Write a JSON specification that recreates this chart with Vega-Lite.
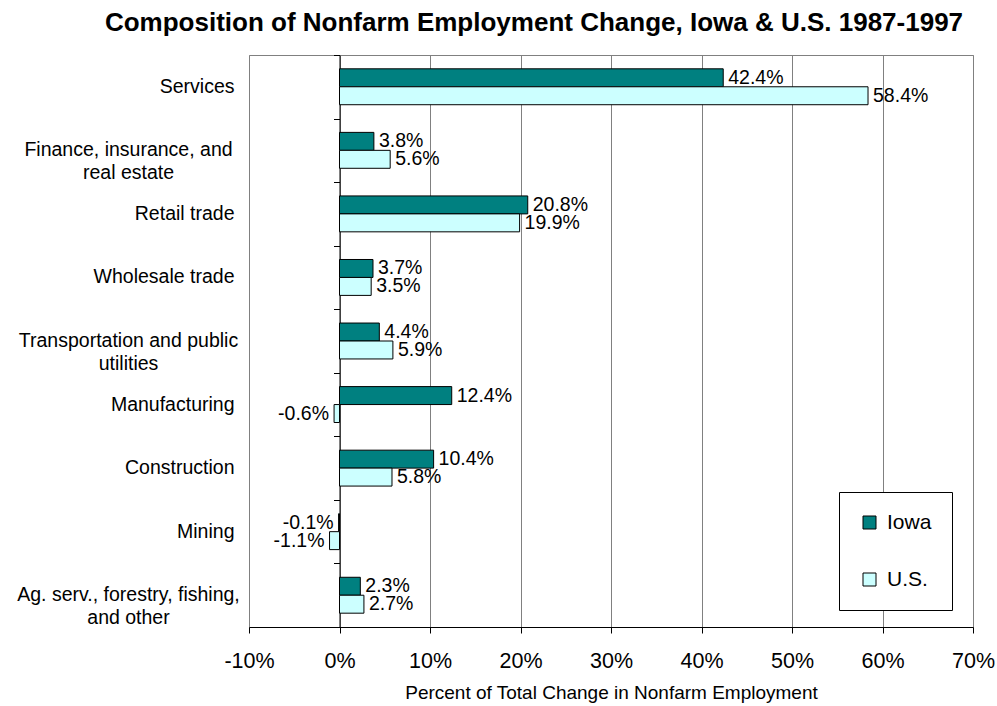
{
  "$schema": "https://vega.github.io/schema/vega-lite/v6.json",
  "width": 724,
  "height": 572,
  "autosize": {"type": "none"},
  "padding": {"left": 249, "top": 55, "right": 24, "bottom": 79},
  "background": "white",
  "title": {
    "text": "Composition of Nonfarm Employment Change, Iowa & U.S. 1987-1997",
    "fontSize": 26,
    "fontWeight": "bold",
    "font": "Liberation Sans",
    "anchor": "middle",
    "dx": -77,
    "offset": -2,
    "baseline": "alphabetic",
    "color": "black"
  },
  "data": {
    "values": [
      {"category": "Services", "series": "Iowa", "pct": 0.424},
      {"category": "Services", "series": "U.S.", "pct": 0.584},
      {"category": "Finance, insurance, and\nreal estate", "series": "Iowa", "pct": 0.038},
      {"category": "Finance, insurance, and\nreal estate", "series": "U.S.", "pct": 0.056},
      {"category": "Retail trade", "series": "Iowa", "pct": 0.208},
      {"category": "Retail trade", "series": "U.S.", "pct": 0.199},
      {"category": "Wholesale trade", "series": "Iowa", "pct": 0.037},
      {"category": "Wholesale trade", "series": "U.S.", "pct": 0.035},
      {"category": "Transportation and public\nutilities", "series": "Iowa", "pct": 0.044},
      {"category": "Transportation and public\nutilities", "series": "U.S.", "pct": 0.059},
      {"category": "Manufacturing", "series": "Iowa", "pct": 0.124},
      {"category": "Manufacturing", "series": "U.S.", "pct": -0.006},
      {"category": "Construction", "series": "Iowa", "pct": 0.104},
      {"category": "Construction", "series": "U.S.", "pct": 0.058},
      {"category": "Mining", "series": "Iowa", "pct": -0.001},
      {"category": "Mining", "series": "U.S.", "pct": -0.011},
      {"category": "Ag. serv., forestry, fishing,\nand other", "series": "Iowa", "pct": 0.023},
      {"category": "Ag. serv., forestry, fishing,\nand other", "series": "U.S.", "pct": 0.027}
    ]
  },
  "encoding": {
    "x": {
      "field": "pct",
      "type": "quantitative",
      "scale": {"domain": [-0.1, 0.7], "nice": false, "zero": false},
      "axis": {
        "format": ".0%",
        "values": [-0.1, 0, 0.1, 0.2, 0.3, 0.4, 0.5, 0.6, 0.7],
        "title": "Percent of Total Change in Nonfarm Employment",
        "titleFontSize": 19,
        "titleFontWeight": "normal",
        "titleColor": "black",
        "titlePadding": 12,
        "labelFontSize": 21.5,
        "labelColor": "black",
        "labelPadding": 17,
        "labelFlush": false,
        "labelOverlap": false,
        "tickSize": 6,
        "tickColor": "black",
        "domainColor": "black",
        "grid": true,
        "gridColor": "#808080",
        "gridOpacity": 1
      }
    },
    "yOffset": {
      "field": "series",
      "sort": ["Iowa", "U.S."],
      "scale": {"paddingInner": 0, "paddingOuter": 0.77}
    }
  },
  "layer": [
    {
      "mark": {"type": "bar", "stroke": "black", "strokeWidth": 1},
      "encoding": {
        "y": {
          "field": "category",
          "type": "nominal",
          "sort": null,
          "scale": {"paddingInner": 0, "paddingOuter": 0},
          "axis": {
            "title": null,
            "domain": false,
            "ticks": false,
            "grid": false,
            "labelFontSize": 19.5,
            "labelColor": "black",
            "labelLineHeight": 23,
            "labelLimit": 400,
            "labelBaseline": "middle",
            "labelExpr": "split(datum.value, '\\n')",
            "labelAlign": {"condition": {"test": "indexof(datum.value, '\\n') >= 0", "value": "center"}, "value": "right"},
            "labelPadding": {"condition": {"test": "indexof(datum.value, '\\n') >= 0", "value": 121}, "value": 15}
          }
        },
        "color": {
          "field": "series",
          "type": "nominal",
          "scale": {"domain": ["Iowa", "U.S."], "range": ["#008080", "#CCFFFF"]},
          "legend": {
            "title": null,
            "orient": "none",
            "legendX": 590,
            "legendY": 437,
            "symbolType": "square",
            "symbolSize": 169,
            "symbolStrokeColor": "black",
            "symbolStrokeWidth": 1,
            "labelFontSize": 21,
            "labelColor": "black",
            "labelOffset": 7,
            "padding": 20,
            "rowPadding": 35,
            "strokeColor": "black",
            "fillColor": "white"
          }
        }
      }
    },
    {
      "transform": [{"filter": "datum.pct >= 0"}],
      "mark": {"type": "text", "align": "left", "dx": 5, "baseline": "middle", "fontSize": 19.5, "color": "black"},
      "encoding": {
        "y": {
          "field": "category",
          "type": "nominal",
          "sort": null,
          "scale": {"paddingInner": 0, "paddingOuter": 0},
          "axis": {
            "orient": "right",
            "offset": -633.5,
            "title": null,
            "labels": false,
            "grid": false,
            "domain": true,
            "domainColor": "black",
            "ticks": true,
            "tickBand": "extent",
            "tickSize": -6,
            "tickColor": "black"
          }
        },
        "text": {"field": "pct", "type": "quantitative", "format": ".1%"}
      }
    },
    {
      "transform": [{"filter": "datum.pct < 0"}],
      "mark": {"type": "text", "align": "right", "dx": -5, "baseline": "middle", "fontSize": 19.5, "color": "black"},
      "encoding": {
        "y": {
          "field": "category",
          "type": "nominal",
          "sort": null,
          "scale": {"paddingInner": 0, "paddingOuter": 0},
          "axis": null
        },
        "text": {"field": "pct", "type": "quantitative", "format": ".1%"}
      }
    }
  ],
  "resolve": {"axis": {"y": "independent"}},
  "config": {
    "font": "Liberation Sans",
    "view": {"stroke": "#808080", "strokeWidth": 1},
    "locale": {
      "number": {"decimal": ".", "thousands": ",", "grouping": [3], "currency": ["$", ""], "minus": "-"}
    }
  }
}
